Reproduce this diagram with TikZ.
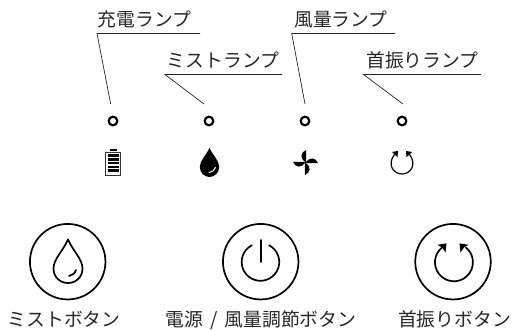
\documentclass[tikz,border=0pt]{standalone}
\usepackage{fontspec}
\setmainfont{Noto Sans CJK JP}
\tikzset{
  lbl/.style={inner sep=0pt,font=\fontsize{18.8}{20}\selectfont,anchor=base,text=black!85},
  ldr/.style={draw=black!85,line width=0.7pt},
  lamp/.style={circle,draw=black,line width=2.2pt,minimum size=8.6pt,inner sep=0pt},
  btn/.style={circle,draw=black,line width=1.7pt,minimum size=75.5pt,inner sep=0pt},
  sym/.style={draw=black,line width=1.7pt,line cap=round,line join=round}
}
\begin{document}
\begin{tikzpicture}[x=1pt,y=-1pt]
\useasboundingbox (0,0) rectangle (522,331);
% labels
\node[lbl] (t1) at (144.5,26.5) {充電ランプ};
\node[lbl] (t2) at (223,67.5) {ミストランプ};
\node[lbl] (t3) at (341,26.5) {風量ランプ};
\node[lbl] (t4) at (422.5,67.5) {首振りランプ};
% lamps
\node[lamp] (l1) at (113,121) {};
\node[lamp] (l2) at (209,121) {};
\node[lamp] (l3) at (305,121) {};
\node[lamp] (l4) at (402,121) {};
% leaders
\coordinate (a1) at (200,33.5); \coordinate (b1) at (97,33.5); \coordinate (c1) at (110.7,104);
\coordinate (a2) at (282,74.5); \coordinate (b2) at (165,74.5); \coordinate (c2) at (204,104);
\coordinate (a3) at (395,33.5); \coordinate (b3) at (291.7,33.5); \coordinate (c3) at (305,104);
\coordinate (a4) at (481,74.5); \coordinate (b4) at (363.5,74.5); \coordinate (c4) at (403,104);
\foreach \i in {1,2,3,4} \draw[ldr] (a\i) -- (b\i) -- (c\i);
% battery
\draw[black!80,line width=1pt] (105.5,152.5) rectangle (120.5,175.5);
\fill[black] (109.5,149) rectangle (116.5,151);
\foreach \y in {154.5,158.2,161.9,165.6,169.3} \fill[black] (107.5,\y) rectangle (118.5,\y+2.6);
% solid drop
\fill[black] (209.5,148) .. controls (206,155.5) and (199.8,160.5) .. (199.8,167) .. controls (199.8,172.8) and (204.5,177) .. (209.5,177) .. controls (214.5,177) and (219.2,172.8) .. (219.2,167) .. controls (219.2,160.5) and (213,155.5) .. (209.5,148) -- cycle;
\draw[white,line width=1pt,line cap=round] (209,172.5) .. controls (212,172.2) and (214.5,170.5) .. (215.5,167.5);
% fan
\begin{scope}[shift={(305.5,162.5)}]
\foreach \a in {0,90,180,270}
  \fill[black,rotate=\a] (0.6,0) -- (0.6,-12.5) .. controls (-5.5,-10) and (-5.5,-4) .. (0,0) -- cycle;
\end{scope}
% small rotate
\draw[black,line width=1.2pt] (394.5,154.5) .. controls (387,164) and (393,174) .. (402,174) .. controls (411,174) and (417,164) .. (409.5,154.5);
\fill[black] (398,151) -- (392,152) -- (394.5,154.5) -- (397.5,157) -- cycle;
\fill[black] (406,151) -- (412,152) -- (409.5,154.5) -- (406.5,157) -- cycle;
% buttons
\node[btn] (b1n) at (67.7,261.7) {};
\node[btn] (b2n) at (260.7,261.7) {};
\node[btn] (b3n) at (453,261.7) {};
% outline drop
\draw[sym] (68,239.5) .. controls (63,251) and (53.5,259) .. (53.5,268.5) .. controls (53.5,277) and (60,283) .. (68,283) .. controls (76,283) and (82.5,277) .. (82.5,268.5) .. controls (82.5,259) and (73,251) .. (68,239.5) -- cycle;
\draw[sym] (69,276) .. controls (72,275.5) and (75,273.5) .. (76,270);
% power
\draw[sym] (251.8,245.3) arc[start angle=242.6,end angle=-62.6,radius=18.8];
\draw[sym] (260.7,240) -- (260.7,262);
% rotate
\draw[sym] (442,247.5) arc[start angle=231,end angle=-51,radius=19];
\fill[black] (446.5,243.3) -- (437.5,244.8) -- (442,247.5) -- (445.5,252.5) -- cycle;
\fill[black] (459.5,243.3) -- (468.5,244.8) -- (464,247.5) -- (460.5,252.5) -- cycle;
% bottom labels
\node[lbl] at (64,326.5) {ミストボタン};
\node[lbl] at (261,326.5) {電源\hspace{7pt}/\hspace{7pt}風量調節ボタン};
\node[lbl] at (454.5,326.5) {首振りボタン};
\end{tikzpicture}
\end{document}
